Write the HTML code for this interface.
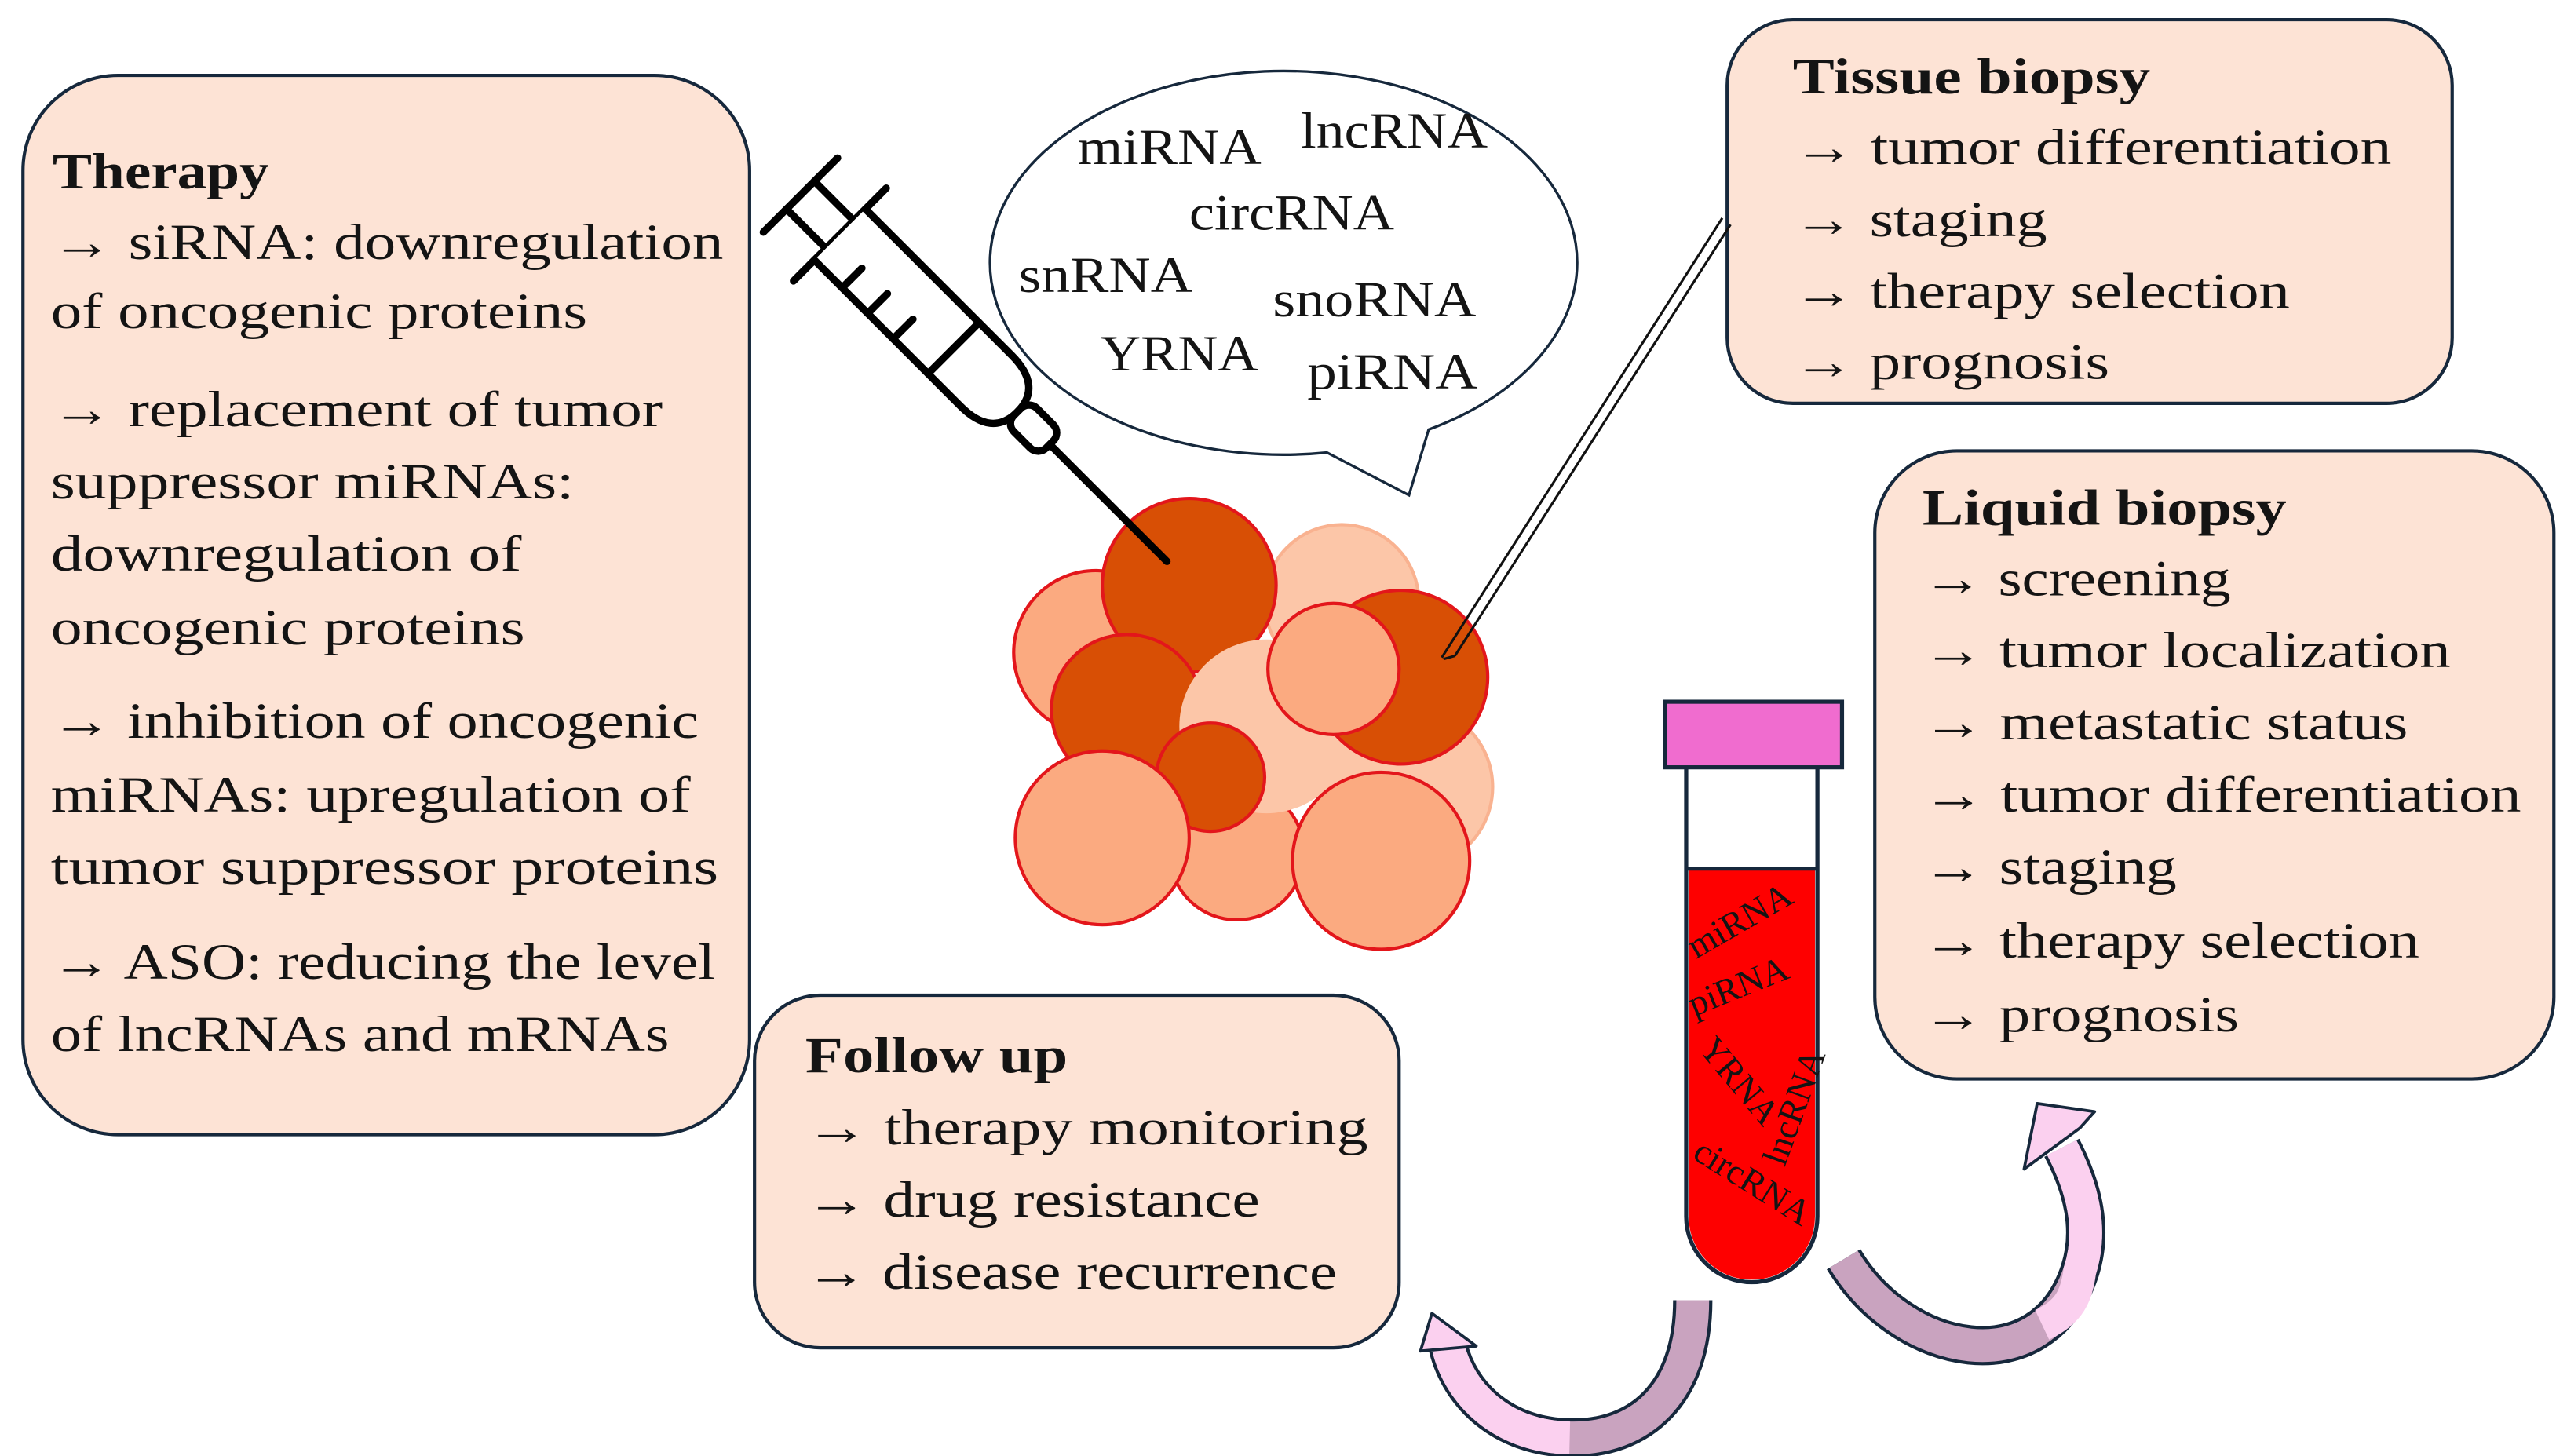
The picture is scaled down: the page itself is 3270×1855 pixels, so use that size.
<!DOCTYPE html>
<html><head><meta charset="utf-8"><style>
html,body{margin:0;padding:0;background:#fff;}
svg{display:block;}
text{font-family:"Liberation Serif",serif;fill:#141414;}
</style></head><body>
<svg width="3270" height="1855" viewBox="0 0 1565 888" preserveAspectRatio="none" xmlns="http://www.w3.org/2000/svg">
<!-- Therapy box -->
<rect x="14" y="46" width="443" height="646" rx="58" fill="#fde3d5" stroke="#16283c" stroke-width="2"/>
<g font-size="31">
<text x="32" y="115" font-weight="bold" textLength="132" lengthAdjust="spacingAndGlyphs">Therapy</text>
<text x="31" y="158" textLength="410" lengthAdjust="spacingAndGlyphs">→ siRNA: downregulation</text>
<text x="31" y="200" textLength="327" lengthAdjust="spacingAndGlyphs">of oncogenic proteins</text>
<text x="31" y="260" textLength="373" lengthAdjust="spacingAndGlyphs">→ replacement of tumor</text>
<text x="31" y="304" textLength="319" lengthAdjust="spacingAndGlyphs">suppressor miRNAs:</text>
<text x="31" y="348" textLength="287" lengthAdjust="spacingAndGlyphs">downregulation of</text>
<text x="31" y="393" textLength="289" lengthAdjust="spacingAndGlyphs">oncogenic proteins</text>
<text x="31" y="450" textLength="395" lengthAdjust="spacingAndGlyphs">→ inhibition of oncogenic</text>
<text x="31" y="495" textLength="390" lengthAdjust="spacingAndGlyphs">miRNAs: upregulation of</text>
<text x="31" y="539" textLength="407" lengthAdjust="spacingAndGlyphs">tumor suppressor proteins</text>
<text x="31" y="597" textLength="405" lengthAdjust="spacingAndGlyphs">→ ASO: reducing the level</text>
<text x="31" y="641" textLength="377" lengthAdjust="spacingAndGlyphs">of lncRNAs and mRNAs</text>
</g>
<!-- Tissue biopsy -->
<rect x="1053" y="12" width="442" height="234" rx="40" fill="#fde3d5" stroke="#16283c" stroke-width="2"/>
<g font-size="31">
<text x="1093" y="57" font-weight="bold" textLength="218" lengthAdjust="spacingAndGlyphs">Tissue biopsy</text>
<text x="1093" y="100" textLength="365" lengthAdjust="spacingAndGlyphs">→ tumor differentiation</text>
<text x="1093" y="144" textLength="155" lengthAdjust="spacingAndGlyphs">→ staging</text>
<text x="1093" y="188" textLength="303" lengthAdjust="spacingAndGlyphs">→ therapy selection</text>
<text x="1093" y="231" textLength="193" lengthAdjust="spacingAndGlyphs">→ prognosis</text>
</g>
<!-- Liquid biopsy -->
<rect x="1143" y="275" width="414" height="383" rx="50" fill="#fde3d5" stroke="#16283c" stroke-width="2"/>
<g font-size="31">
<text x="1172" y="320" font-weight="bold" textLength="222" lengthAdjust="spacingAndGlyphs">Liquid biopsy</text>
<text x="1172" y="363" textLength="188" lengthAdjust="spacingAndGlyphs">→ screening</text>
<text x="1172" y="407" textLength="322" lengthAdjust="spacingAndGlyphs">→ tumor localization</text>
<text x="1172" y="451" textLength="296" lengthAdjust="spacingAndGlyphs">→ metastatic status</text>
<text x="1172" y="495" textLength="365" lengthAdjust="spacingAndGlyphs">→ tumor differentiation</text>
<text x="1172" y="539" textLength="155" lengthAdjust="spacingAndGlyphs">→ staging</text>
<text x="1172" y="584" textLength="303" lengthAdjust="spacingAndGlyphs">→ therapy selection</text>
<text x="1172" y="629" textLength="193" lengthAdjust="spacingAndGlyphs">→ prognosis</text>
</g>
<!-- Follow up -->
<rect x="460" y="607" width="393" height="215" rx="40" fill="#fde3d5" stroke="#16283c" stroke-width="2"/>
<g font-size="31">
<text x="491" y="654" font-weight="bold" textLength="160" lengthAdjust="spacingAndGlyphs">Follow up</text>
<text x="491" y="698" textLength="343" lengthAdjust="spacingAndGlyphs">→ therapy monitoring</text>
<text x="491" y="742" textLength="277" lengthAdjust="spacingAndGlyphs">→ drug resistance</text>
<text x="491" y="786" textLength="324" lengthAdjust="spacingAndGlyphs">→ disease recurrence</text>
</g>
<!-- Speech bubble -->
<path d="M809,276 A179,117 0 1 1 871,262 L859,302 Z" fill="#fff" stroke="#16283c" stroke-width="1.6"/>
<g font-size="31">
<text x="657" y="100" textLength="112" lengthAdjust="spacingAndGlyphs">miRNA</text>
<text x="793" y="90" textLength="114" lengthAdjust="spacingAndGlyphs">lncRNA</text>
<text x="725" y="140" textLength="125" lengthAdjust="spacingAndGlyphs">circRNA</text>
<text x="621" y="178" textLength="106" lengthAdjust="spacingAndGlyphs">snRNA</text>
<text x="776" y="193" textLength="124" lengthAdjust="spacingAndGlyphs">snoRNA</text>
<text x="671" y="226" textLength="96" lengthAdjust="spacingAndGlyphs">YRNA</text>
<text x="797" y="237" textLength="104" lengthAdjust="spacingAndGlyphs">piRNA</text>
</g>
<!-- Tumor circles -->
<g stroke="#e3161b" stroke-width="2">
<circle cx="818" cy="367" r="47" fill="#fcc6a8" stroke="#f9b290"/>
<circle cx="668" cy="398" r="50" fill="#fbaa80"/>
<circle cx="860" cy="480" r="50" fill="#fcc6a8" stroke="#f9b290"/>
<circle cx="754" cy="520" r="41" fill="#fbaa80"/>
<circle cx="725" cy="357" r="53" fill="#d84f05"/>
<circle cx="687" cy="433" r="46" fill="#d84f05"/>
<circle cx="772" cy="443" r="53" fill="#fcc6a8" stroke="none"/>
<circle cx="854" cy="413" r="53" fill="#d84f05"/>
<circle cx="813" cy="408" r="40" fill="#fbaa80"/>
<circle cx="738" cy="474" r="33" fill="#d84f05"/>
<circle cx="672" cy="511" r="53" fill="#fbaa80"/>
<circle cx="842" cy="525" r="54" fill="#fbaa80"/>
</g>
<!-- Syringe -->
<g transform="translate(488,119) rotate(45)" stroke="#000" stroke-width="4.5" fill="none" stroke-linecap="round">
<line x1="0" y1="-32" x2="0" y2="32"/>
<line x1="0" y1="-12" x2="34" y2="-12"/>
<line x1="0" y1="12" x2="34" y2="12"/>
<line x1="34" y1="-40" x2="34" y2="40"/>
<path d="M34,-22 H160 Q187,-22 187,0 Q187,22 160,22 H34" fill="#fff"/>
<line x1="58" y1="22" x2="58" y2="5"/>
<line x1="80" y1="22" x2="80" y2="5"/>
<line x1="102" y1="22" x2="102" y2="5"/>
<line x1="132" y1="-22" x2="132" y2="22"/>
<rect x="187" y="-10" width="28" height="20" rx="7" fill="#fff"/>
<line x1="215" y1="0" x2="316" y2="0"/>
</g>
<!-- Biopsy needle -->
<line x1="1050" y1="133" x2="879" y2="401" stroke="#111" stroke-width="1.5"/>
<line x1="1055" y1="137" x2="887" y2="400" stroke="#111" stroke-width="1.5"/>
<line x1="887" y1="400" x2="880" y2="402" stroke="#111" stroke-width="1.5"/>
<!-- Tube -->
<path d="M1028,468 V742 A40,40 0 0 0 1108,742 V468 Z" fill="#fff"/>
<path d="M1029.5,530 V742 A38.5,38.5 0 0 0 1106.5,742 V530 Z" fill="#fe0000"/>
<line x1="1028" y1="530" x2="1108" y2="530" stroke="#16283c" stroke-width="2"/>
<path d="M1028,468 V742 A40,40 0 0 0 1108,742 V468" fill="none" stroke="#16283c" stroke-width="2.5"/>
<rect x="1015" y="428" width="108" height="40" fill="#f06ccf" stroke="#16283c" stroke-width="2.5"/>
<g font-size="22">
<text transform="translate(1034,585) rotate(-30)">miRNA</text>
<text transform="translate(1033,620) rotate(-22)">piRNA</text>
<text transform="translate(1035,640) rotate(50)">YRNA</text>
<text transform="translate(1088,712) rotate(-70)">lncRNA</text>
<text transform="translate(1031,706) rotate(32)">circRNA</text>
</g>
<!-- Curved arrows -->
<g fill="none" stroke-linecap="butt">
<path d="M1124,768 C1160,828 1245,845 1268,775 C1276,750 1270,725 1257,700" stroke="#16283c" stroke-width="24"/>
<path d="M1124,768 C1160,828 1245,845 1268,775 C1276,750 1270,725 1257,700" stroke="#c9a3bf" stroke-width="20"/>
<path d="M1245,808 C1262,800 1266,790 1268,775 C1276,750 1270,725 1257,700" stroke="#fbd0ef" stroke-width="20"/>
<path d="M1032,793 C1032,850 1000,878 957,877 C915,876 890,850 883,822" stroke="#16283c" stroke-width="24"/>
<path d="M1032,793 C1032,850 1000,878 957,877 C915,876 890,850 883,822" stroke="#c9a3bf" stroke-width="20"/>
<path d="M957,877 C915,876 890,850 883,822" stroke="#fbd0ef" stroke-width="20"/>
</g>
<polygon points="1242,673 1277,678 1268,688 1234,713" fill="#fbd0ef" stroke="#16283c" stroke-width="1.8" stroke-linejoin="round"/>
<polygon points="873,801 900,821 866,824" fill="#fbd0ef" stroke="#16283c" stroke-width="1.8" stroke-linejoin="round"/>
</svg>
</body></html>
